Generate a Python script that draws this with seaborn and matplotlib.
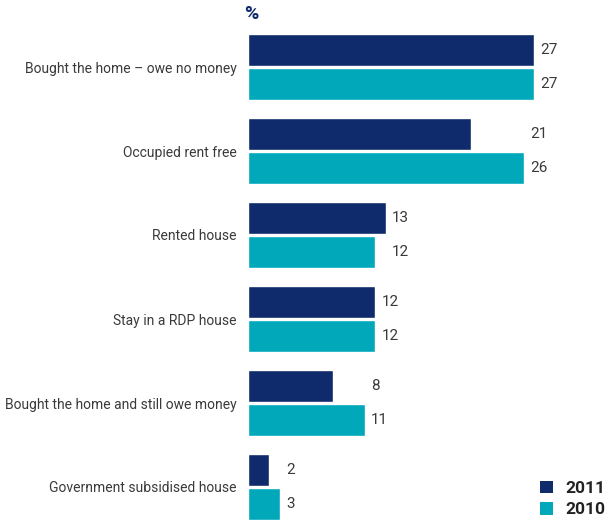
import matplotlib
matplotlib.use("Agg")
import matplotlib.pyplot as plt
from matplotlib.patches import Patch
import seaborn as sns
import pandas as pd

categories = [
    "Bought the home \u2013 owe no money",
    "Occupied rent free",
    "Rented house",
    "Stay in a RDP house",
    "Bought the home and still owe money",
    "Government subsidised house",
]
values_2011 = [27, 21, 13, 12, 8, 2]
values_2010 = [27, 26, 12, 12, 11, 3]
years = ["2011", "2010"]
colors = {"2011": "#0F2B6B", "2010": "#00A8BA"}

sns.set_theme(style="white")
plt.rcParams["font.family"] = ["Roboto", "DejaVu Sans"]

df = pd.DataFrame({
    "category": categories * 2,
    "year": ["2011"] * len(categories) + ["2010"] * len(categories),
    "value": values_2011 + values_2010,
})

fig = plt.figure(figsize=(6.07, 5.22), dpi=100)
ax = fig.add_axes([248 / 607, 0, 1 - 248 / 607, 1])

sns.barplot(
    data=df, y="category", x="value", hue="year", hue_order=years,
    order=categories, palette=colors, orient="h", width=0.81, gap=0.06,
    saturation=1, legend=False, ax=ax,
)

ax.set_xlim(0, 359 / 10.6)
ax.set_ylim((522 - 67) / 84, -67 / 84)
ax.set_xlabel("")
ax.set_ylabel("")
ax.set_xticks([])
for s in ax.spines.values():
    s.set_visible(False)
ax.tick_params(axis="y", length=0, pad=8, labelsize=10.0, labelcolor="#3A3A3A")

# value labels sit just past the longer bar of each pair
hw = 0.81 / 4
for i, (a, b) in enumerate(zip(values_2011, values_2010)):
    xpos = max(a, b) + 0.6
    ax.text(xpos, i - hw, str(a), va="center", ha="left", fontsize=11, color="#3A3A3A")
    ax.text(xpos, i + hw, str(b), va="center", ha="left", fontsize=11, color="#3A3A3A")

fig.text(244 / 607, 1 - 14 / 522, "%", ha="left", va="center",
         fontsize=14, fontweight="bold", color="#0F2B6B")

handles = [Patch(facecolor=colors[y], edgecolor="none", label=y) for y in years]
leg = fig.legend(handles=handles, loc="lower right", bbox_to_anchor=(1.012, -0.008),
                 frameon=False, handlelength=0.75, handleheight=0.75,
                 handletextpad=0.7, labelspacing=0.35, borderaxespad=0.1,
                 prop={"weight": "bold", "size": 12.5})
for t in leg.get_texts():
    t.set_color("#222222")

fig.savefig("out.png", dpi=100)
